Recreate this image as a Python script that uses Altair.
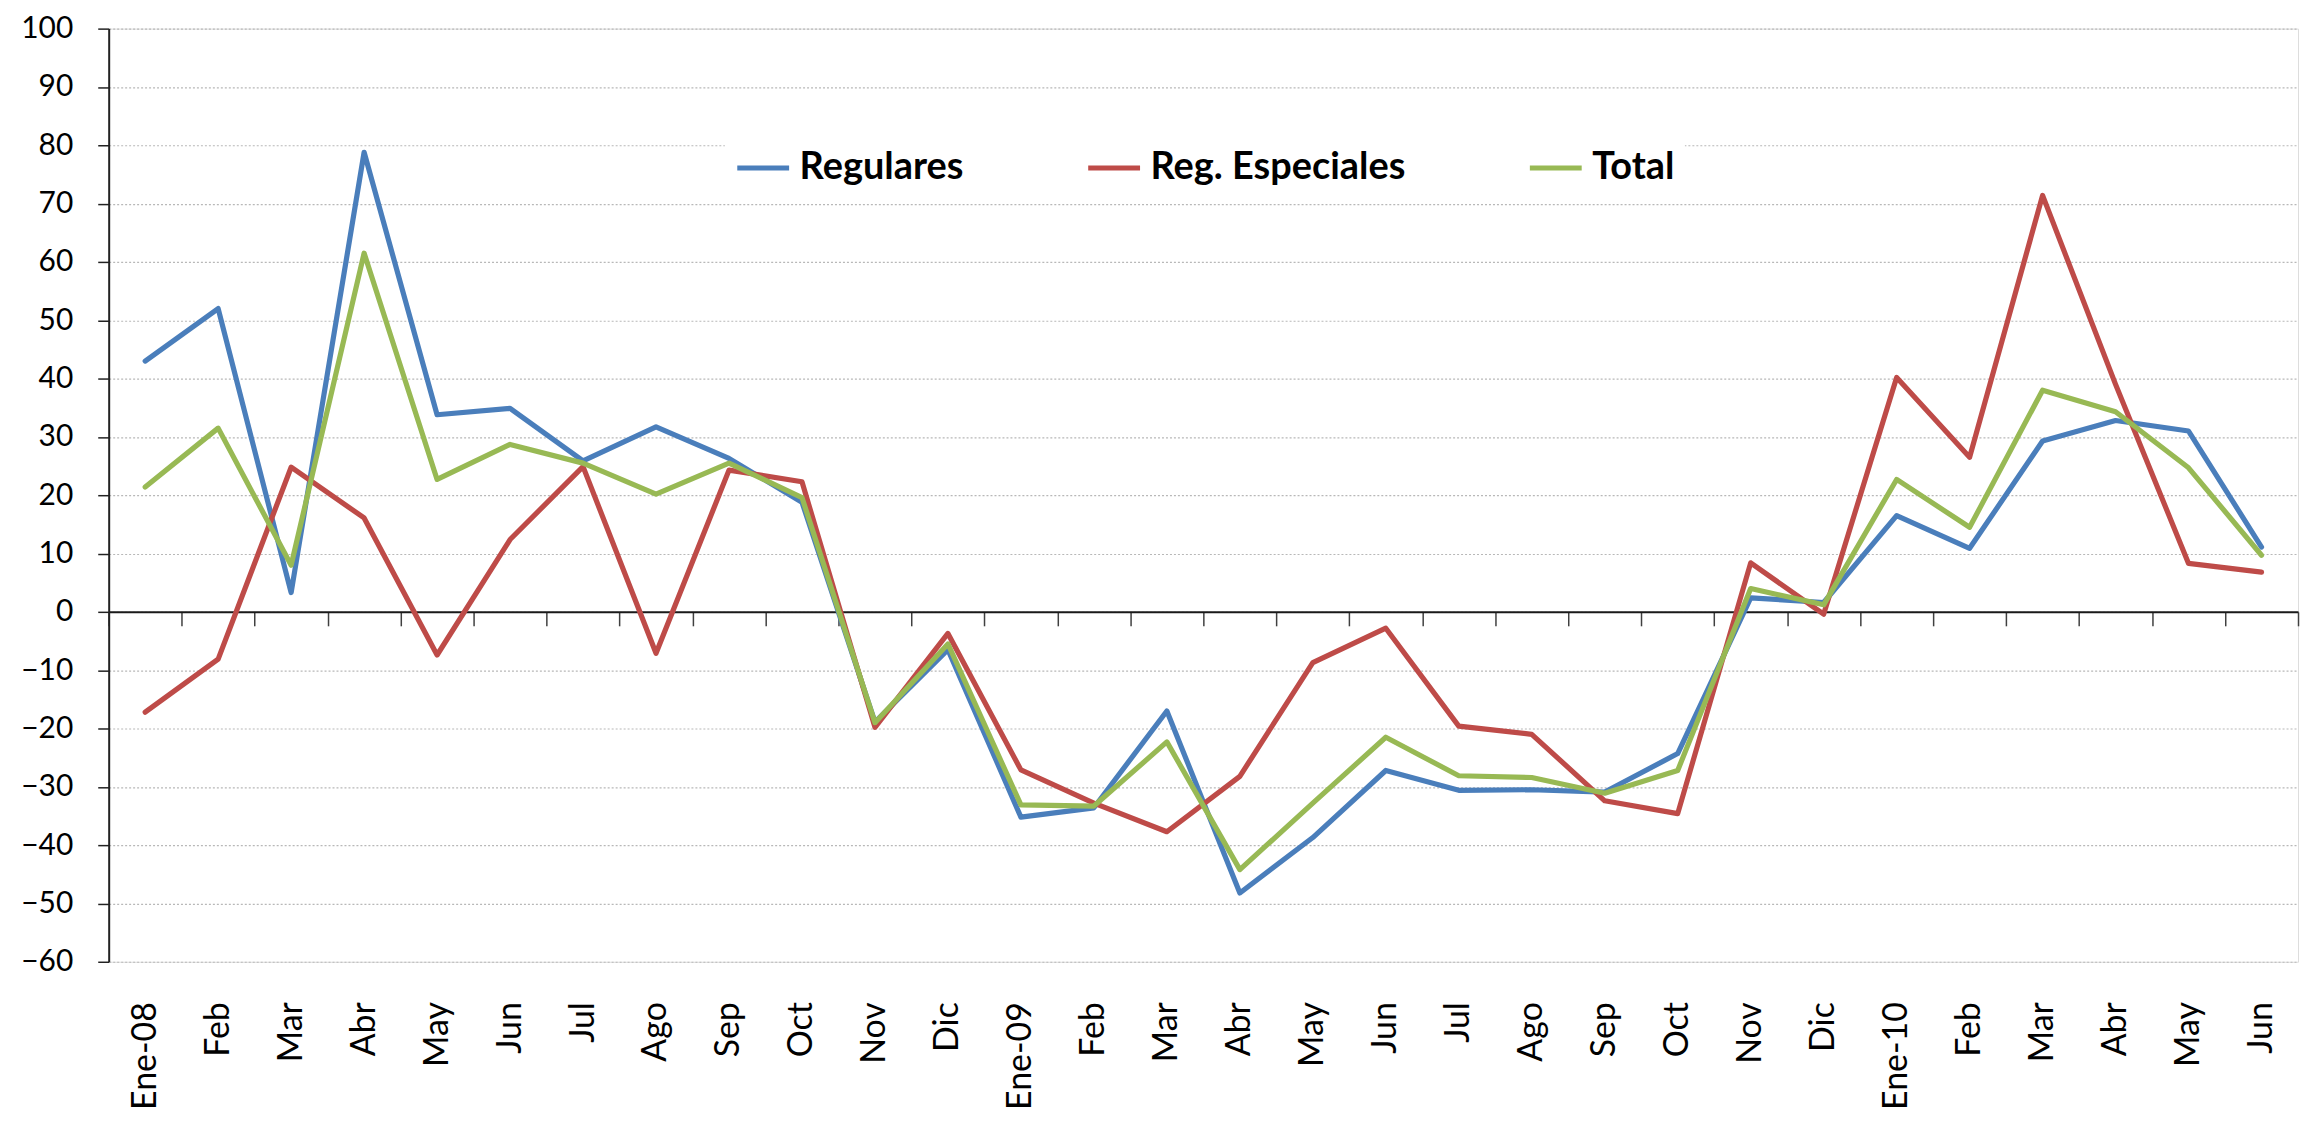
import altair as alt
import pandas as pd

months = ["Ene-08", "Feb", "Mar", "Abr", "May", "Jun", "Jul", "Ago", "Sep", "Oct", "Nov", "Dic",
          "Ene-09", "Feb", "Mar", "Abr", "May", "Jun", "Jul", "Ago", "Sep", "Oct", "Nov", "Dic",
          "Ene-10", "Feb", "Mar", "Abr", "May", "Jun"]

regulares = [43.0, 52.0, 3.3, 78.8, 33.8, 34.9, 25.9, 31.7, 26.3, 18.8, -18.9, -6.5,
             -35.2, -33.6, -17.0, -48.2, -38.7, -27.2, -30.6, -30.5, -30.9, -24.3, 2.4, 1.6,
             16.5, 10.9, 29.3, 32.8, 31.0, 11.1]
especiales = [-17.2, -8.1, 24.8, 16.1, -7.4, 12.4, 24.9, -7.1, 24.3, 22.3, -19.8, -3.7,
              -27.1, -32.8, -37.7, -28.2, -8.7, -2.8, -19.6, -21.0, -32.4, -34.6, 8.4, -0.4,
              40.2, 26.5, 71.4, 39.0, 8.3, 6.8]
total = [21.4, 31.5, 8.0, 61.5, 22.7, 28.7, 25.5, 20.2, 25.5, 19.6, -19.0, -5.5,
         -33.1, -33.3, -22.3, -44.2, -32.8, -21.5, -28.1, -28.4, -31.1, -27.2, 4.0, 1.2,
         22.7, 14.5, 38.0, 34.3, 24.7, 9.7]

series_names = ["Regulares", "Reg. Especiales", "Total"]
series_colors = ["#4a7ebb", "#be4b48", "#98b954"]
y_ticks = list(range(-60, 101, 10))

rows = []
for name, vals in zip(series_names, [regulares, especiales, total]):
    for i, v in enumerate(vals):
        rows.append({"idx": i, "serie": name, "valor": v, "orden": series_names.index(name)})
df = pd.DataFrame(rows)

W = 2196
H = 936
ymin, ymax = -60, 100
zero_from_bottom = H * (0 - ymin) / (ymax - ymin)
tick_len = 14
label_gap = 40

label_expr = "[" + ",".join("'" + m + "'" for m in months) + "][datum.value]"

FONT = "Lato"

x_axis = alt.Axis(
    title=None,
    orient="bottom",
    offset=-zero_from_bottom,
    domain=True,
    domainColor="#1a1a1a",
    domainWidth=2,
    ticks=True,
    tickBand="extent",
    tickSize=tick_len,
    tickColor="#404040",
    tickWidth=1.5,
    labelExpr=label_expr,
    labelAngle=270,
    labelAlign="right",
    labelBaseline="middle",
    labelPadding=zero_from_bottom + label_gap - tick_len,
    labelFont=FONT,
    labelFontSize=34,
    labelColor="#000000",
    labelOverlap=False,
    grid=False,
)

y_axis = alt.Axis(
    title=None,
    values=y_ticks,
    domain=True,
    domainColor="#222222",
    domainWidth=2,
    ticks=True,
    tickSize=11,
    tickColor="#222222",
    tickWidth=1.5,
    labelPadding=25,
    labelFont=FONT,
    labelFontSize=30,
    labelColor="#000000",
    grid=True,
    gridColor="#b8b8b8",
    gridDash=[2, 2],
    gridWidth=1.2,
)

legend = alt.Legend(
    title=None,
    orient="none",
    legendX=618,
    legendY=101,
    direction="horizontal",
    symbolType="stroke",
    symbolSize=52 * 52,
    symbolStrokeWidth=5,
    labelFont=FONT,
    labelFontSize=38,
    labelFontWeight="bold",
    labelColor="#000000",
    labelOffset=8,
    columnPadding=114,
    fillColor="#ffffff",
    padding=10,
    labelLimit=600,
)

chart = alt.Chart(df).mark_line(strokeWidth=5.2, strokeJoin="round", strokeCap="round").encode(
    x=alt.X("idx:O", scale=alt.Scale(type="band", domain=list(range(len(months))),
                                     paddingInner=0, paddingOuter=0), axis=x_axis),
    y=alt.Y("valor:Q", scale=alt.Scale(domain=[ymin, ymax], nice=False, zero=False), axis=y_axis),
    color=alt.Color("serie:N", scale=alt.Scale(domain=series_names, range=series_colors),
                    sort=series_names, legend=legend),
    order=alt.Order("orden:Q"),
).properties(
    width=W,
    height=H,
    autosize=alt.AutoSizeParams(type="none"),
    padding={"left": 101, "top": 19, "right": 4, "bottom": 150},
).configure_view(
    stroke="#888888",
    strokeWidth=2.5,
).configure(
    background="#ffffff",
)

chart.save("out.html", embed_options={"renderer": "svg", "actions": False})
